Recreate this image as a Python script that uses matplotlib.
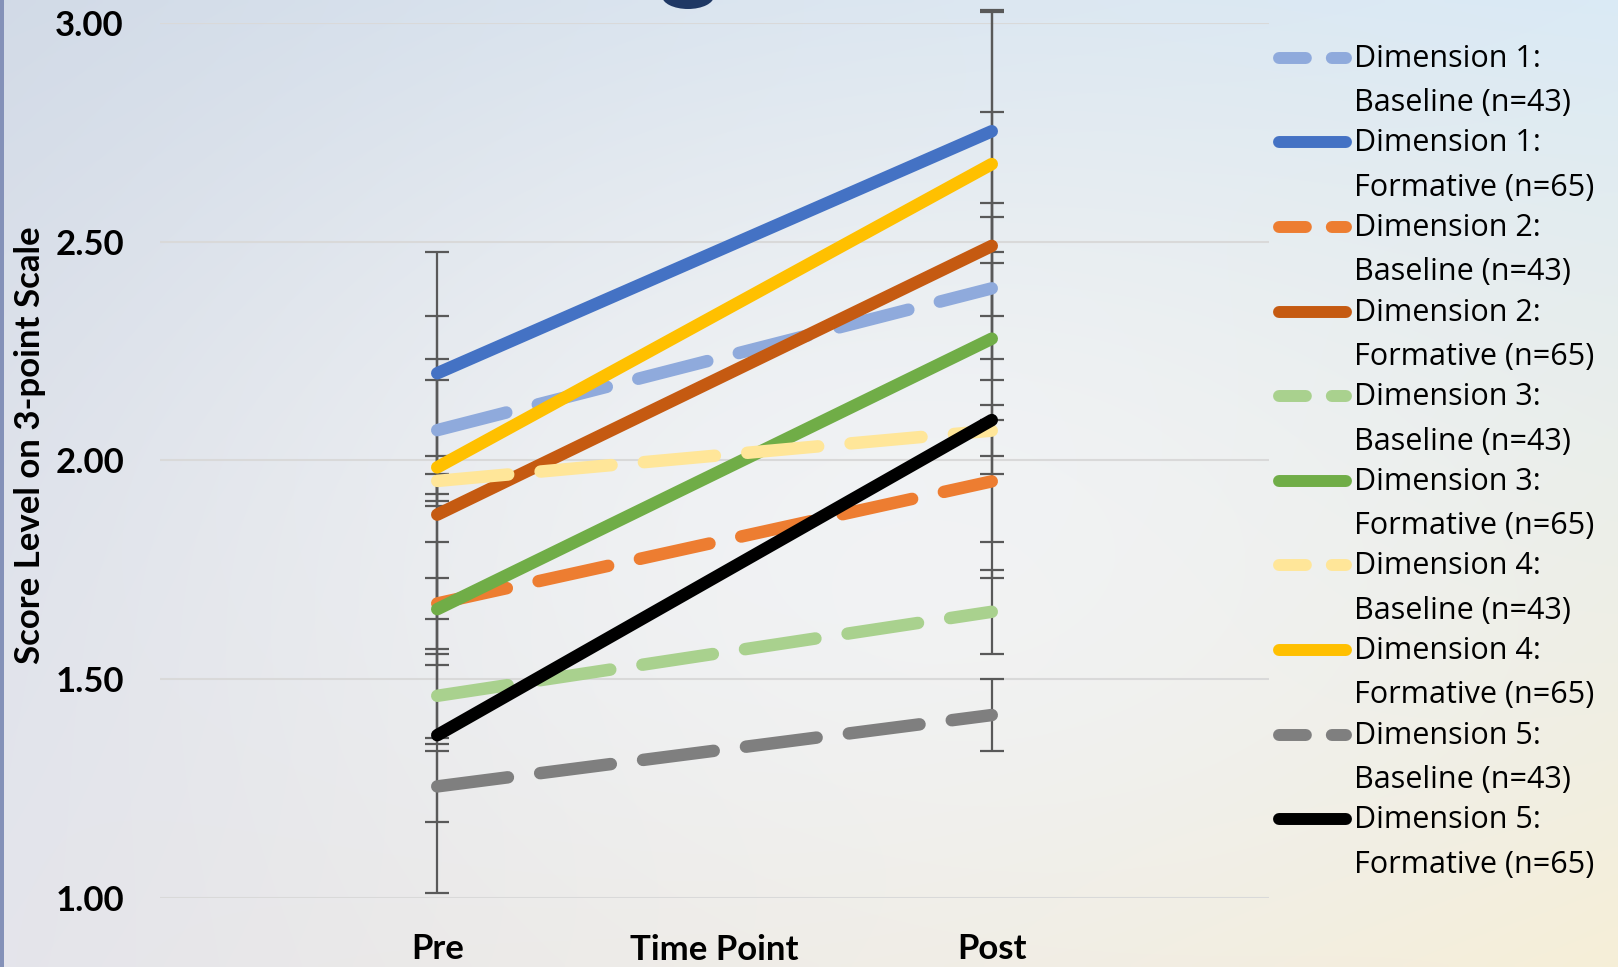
import numpy as np
import matplotlib
matplotlib.use("Agg")
import matplotlib.pyplot as plt
from matplotlib.lines import Line2D
from matplotlib.patches import Rectangle, Ellipse

# ---------------- data ----------------
categories = ["Pre", "Post"]
series_labels = [
    "Dimension 1:\nBaseline (n=43)", "Dimension 1:\nFormative (n=65)",
    "Dimension 2:\nBaseline (n=43)", "Dimension 2:\nFormative (n=65)",
    "Dimension 3:\nBaseline (n=43)", "Dimension 3:\nFormative (n=65)",
    "Dimension 4:\nBaseline (n=43)", "Dimension 4:\nFormative (n=65)",
    "Dimension 5:\nBaseline (n=43)", "Dimension 5:\nFormative (n=65)",
]
d1_baseline = [2.069, 2.393]
d1_formative = [2.199, 2.752]
d2_baseline = [1.673, 1.952]
d2_formative = [1.876, 2.490]
d3_baseline = [1.462, 1.654]
d3_formative = [1.660, 2.278]
d4_baseline = [1.953, 2.068]
d4_formative = [1.984, 2.677]
d5_baseline = [1.255, 1.418]
d5_formative = [1.372, 2.092]
y_ticks = [1.00, 1.50, 2.00, 2.50, 3.00]

series_values = [d1_baseline, d1_formative, d2_baseline, d2_formative,
                 d3_baseline, d3_formative, d4_baseline, d4_formative,
                 d5_baseline, d5_formative]
colors = ["#8FAADC", "#4472C4", "#ED7D31", "#C55A11", "#A9D18E",
          "#70AD47", "#FFE699", "#FFC000", "#7F7F7F", "#000000"]
dashed = [True, False] * 5

# ---------------- layout ----------------
W, H = 1618, 967
FONT = "Lato"
LEG_FONT = "Open Sans"
fig = plt.figure(figsize=(W / 100, H / 100), dpi=100)

def fx(x):
    return x / W

def fy(y):
    return 1 - y / H

# background gradient
ny, nx = 200, 320
u = np.linspace(0, 1, nx)[None, :]
v = np.linspace(0, 1, ny)[:, None]
tl = np.array([0xD0, 0xD9, 0xE6]) / 255
tr = np.array([0xD8, 0xE9, 0xF5]) / 255
bl = np.array([0xE3, 0xE3, 0xEA]) / 255
br = np.array([0xF6, 0xED, 0xD3]) / 255
grad = ((1 - u) * (1 - v))[..., None] * tl + (u * (1 - v))[..., None] * tr \
    + ((1 - u) * v)[..., None] * bl + (u * v)[..., None] * br
center = np.array([0xF6, 0xF7, 0xF9]) / 255
wc = np.exp(-(((u - 0.55) / 0.45) ** 2 + ((v - 0.55) / 0.5) ** 2))[..., None]
grad = grad * (1 - 0.75 * wc) + center * 0.75 * wc
bg = fig.add_axes([0, 0, 1, 1], zorder=-10)
bg.imshow(grad, aspect="auto", extent=[0, 1, 0, 1], interpolation="bilinear")
bg.set_xlim(0, 1)
bg.set_ylim(0, 1)
bg.axis("off")
bg.add_patch(Rectangle((0, 0), 4 / W, 1, color="#8491B8", lw=0))
bg.add_patch(Ellipse((fx(688), fy(-4)), 52 / W, 26 / H, color="#1F3864", lw=0))

ax = fig.add_axes([fx(160), fy(898), 1109 / W, 875.3 / H])
ax.patch.set_alpha(0)
ax.set_xlim(-0.5, 1.5)
ax.set_ylim(1, 3)
for s in ax.spines.values():
    s.set_visible(False)
ax.set_yticks(y_ticks)
ax.set_yticklabels([f"{t:.2f}" for t in y_ticks], fontfamily=FONT,
                   fontweight="bold", fontsize=25)
ax.set_xticks(range(len(categories)))
ax.set_xticklabels(categories, fontfamily=FONT, fontweight="bold", fontsize=25)
ax.tick_params(axis="both", length=0)
ax.tick_params(axis="y", pad=26)
ax.tick_params(axis="x", pad=25)
ax.yaxis.grid(True, color="#D9D9D9", lw=1.5, zorder=0)
ax.set_axisbelow(True)

x = np.arange(len(categories))
lw = 9.0
for i, (vals, c, dsh) in enumerate(zip(series_values, colors, dashed)):
    vals = np.asarray(vals)
    se = np.std(vals, ddof=1) / np.sqrt(len(vals))
    ax.errorbar(x, vals, yerr=se, fmt="none", ecolor="#595959", elinewidth=1.6,
                capsize=8.6, capthick=1.6, zorder=2, clip_on=False)
    ln, = ax.plot(x, vals, color=c, lw=lw, solid_capstyle="round",
                  dash_capstyle="round", zorder=3 + i)
    if dsh:
        ln.set_dashes((5.7, 2.6))

fig.text(fx(714.5), fy(950), "Time Point", fontfamily=FONT, fontweight="bold",
         fontsize=25, ha="center", va="center")
fig.text(fx(30), fy(445), "Score Level on 3-point Scale", fontfamily=FONT,
         fontweight="bold", fontsize=25, rotation=90, ha="center", va="center")

# legend (manual)
for i, (lab, c, dsh) in enumerate(zip(series_labels, colors, dashed)):
    y1 = 57.8 + 84.6 * i
    l = Line2D([fx(1279), fx(1345.5)], [fy(y1), fy(y1)], transform=fig.transFigure,
               color=c, lw=8.6, solid_capstyle="round", dash_capstyle="round")
    if dsh:
        l.set_dashes((2.25, 2.17))
    fig.add_artist(l)
    first, second = lab.split("\n")
    fig.text(fx(1354), fy(y1 + 1), first, fontfamily=LEG_FONT, fontsize=22,
             ha="left", va="center")
    fig.text(fx(1354), fy(y1 + 45.4), second, fontfamily=LEG_FONT, fontsize=22,
             ha="left", va="center")

fig.savefig("out.png", dpi=100)
